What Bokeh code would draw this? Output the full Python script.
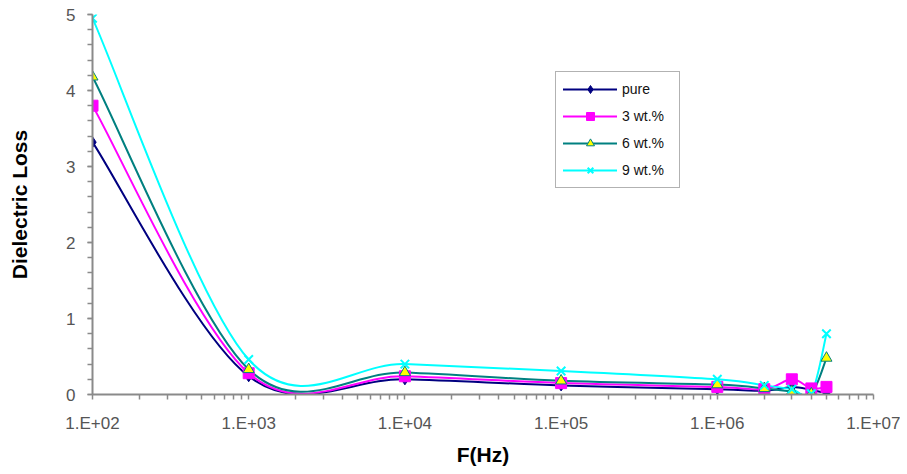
import numpy as np
from bokeh.plotting import figure
from bokeh.models import (FixedTicker, SingleIntervalTicker, Legend, LegendItem,
                          Range1d, ColumnDataSource)
from bokeh.embed import file_html
from bokeh.resources import INLINE

# ---- data ----
freq = [1e2, 1e3, 1e4, 1e5, 1e6, 2e6, 3e6, 4e6, 5e6]
pure = [3.32, 0.24, 0.20, 0.12, 0.07, 0.05, 0.10, 0.06, 0.02]
wt3 = [3.80, 0.28, 0.24, 0.15, 0.10, 0.07, 0.20, 0.08, 0.10]
wt6 = [4.18, 0.33, 0.29, 0.18, 0.13, 0.08, 0.04, 0.01, 0.48]
wt9 = [4.95, 0.46, 0.40, 0.31, 0.20, 0.12, 0.07, 0.01, 0.80]
series_names = ["pure", "3 wt.%", "6 wt.%", "9 wt.%"]
x_ticks = [1e2, 1e3, 1e4, 1e5, 1e6, 1e7]
x_tick_labels = ["1.E+02", "1.E+03", "1.E+04", "1.E+05", "1.E+06", "1.E+07"]

FONT = "Liberation Sans"


def smooth_segments(xv, yv):
    """Excel-like smoothed line: cubic Bezier segments (Catmull-Rom) in log-x space."""
    lx = np.log10(np.asarray(xv, dtype=float))
    y = np.asarray(yv, dtype=float)
    P = np.column_stack([lx, y])
    E = np.vstack([P[0], P, P[-1]])
    out = {k: [] for k in ("x0", "y0", "x1", "y1", "cx0", "cy0", "cx1", "cy1")}
    for i in range(len(P) - 1):
        p0, p1, p2, p3 = E[i], E[i + 1], E[i + 2], E[i + 3]
        c1 = p1 + (p2 - p0) / 6.0
        c2 = p2 - (p3 - p1) / 6.0
        out["x0"].append(10 ** p1[0]); out["y0"].append(p1[1])
        out["x1"].append(10 ** p2[0]); out["y1"].append(p2[1])
        out["cx0"].append(10 ** c1[0]); out["cy0"].append(c1[1])
        out["cx1"].append(10 ** c2[0]); out["cy1"].append(c2[1])
    return ColumnDataSource(out)


p = figure(width=900, height=472, x_axis_type="log",
           x_range=Range1d(1e2, 1e7), y_range=Range1d(0, 5),
           output_backend="svg", toolbar_location=None,
           min_border_left=92, min_border_right=27, min_border_top=14,
           min_border_bottom=78)
p.outline_line_color = None
p.xgrid.visible = False
p.ygrid.visible = False
p.background_fill_color = "white"
p.border_fill_color = "white"

styles = [
    dict(color="#000080", marker="diamond", size=11, fill="#000080", mline="#000080"),
    dict(color="#FF00FF", marker="square", size=11, fill="#FF00FF", mline="#FF00FF"),
    dict(color="#008080", marker="triangle", size=11, fill="#FFFF00", mline="#008080"),
    dict(color="#00FFFF", marker="x", size=12, fill="#00FFFF", mline="#00FFFF"),
]
data = [pure, wt3, wt6, wt9]

line_rs = []
for ys, st in zip(data, styles):
    src = smooth_segments(freq, ys)
    r = p.bezier(x0="x0", y0="y0", x1="x1", y1="y1", cx0="cx0", cy0="cy0",
                 cx1="cx1", cy1="cy1", source=src, line_color=st["color"],
                 line_width=2, line_cap="round")
    line_rs.append(r)

marker_rs = []
for ys, st in zip(data, styles):
    r = p.scatter(freq, ys, marker=st["marker"], size=st["size"],
                  fill_color=st["fill"], line_color=st["mline"],
                  line_width=2 if st["marker"] == "x" else 1)
    marker_rs.append(r)

# axes
p.xaxis.ticker = FixedTicker(ticks=x_ticks,
                             minor_ticks=[m * 10 ** k for k in range(2, 7) for m in range(2, 10)])
p.xaxis.major_label_overrides = dict(zip(x_ticks, x_tick_labels))
p.yaxis.ticker = SingleIntervalTicker(interval=1, num_minor_ticks=5)

for ax in (p.xaxis[0], p.yaxis[0]):
    ax.axis_line_color = "#8a8a8a"
    ax.axis_line_width = 2
    ax.major_tick_line_color = "#8a8a8a"
    ax.minor_tick_line_color = "#8a8a8a"
    ax.major_tick_line_width = 1.5
    ax.minor_tick_line_width = 1.5
    ax.major_tick_in = 0
    ax.major_tick_out = 5
    ax.minor_tick_in = 0
    ax.minor_tick_out = 5
    ax.major_label_text_font = FONT
    ax.major_label_text_font_size = "17px"
    ax.major_label_text_color = "#555555"
    ax.axis_label_text_font = FONT
    ax.axis_label_text_font_style = "bold"
    ax.axis_label_text_font_size = "21px"
    ax.axis_label_text_color = "#000000"

p.xaxis.axis_label = "F(Hz)"
p.yaxis.axis_label = "Dielectric Loss"
p.xaxis.major_label_standoff = 14
p.xaxis.axis_label_standoff = 7
p.yaxis.major_label_standoff = 12
p.yaxis.axis_label_standoff = 32

items = [LegendItem(label=n, renderers=[lr, mr])
         for n, lr, mr in zip(series_names, line_rs, marker_rs)]
legend = Legend(items=items, location=(463, 206), orientation="vertical",
                label_text_font=FONT, label_text_font_size="14px",
                label_text_color="#111111", glyph_width=54, glyph_height=20,
                spacing=7, padding=7, margin=0, label_standoff=5,
                label_width=50, border_line_color="#666666",
                border_line_width=1.5, background_fill_color="white",
                background_fill_alpha=1)
p.add_layout(legend, "center")

open("out.html", "w").write(file_html(p, INLINE))
